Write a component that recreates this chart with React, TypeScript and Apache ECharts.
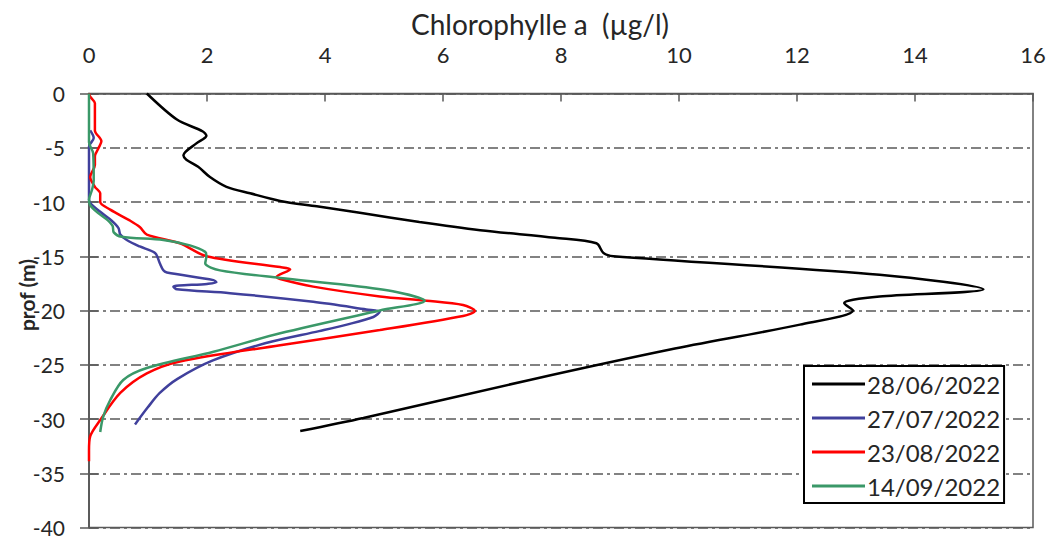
import React, { useEffect, useRef } from "react";
import * as echarts from "echarts";

// Chlorophyll a profiles (µg/l) against depth (m, negative downwards)
const seriesNames = ["28/06/2022", "27/07/2022", "23/08/2022", "14/09/2022"];
const seriesColors = ["#000000", "#40409c", "#ff0000", "#3a9868"];

const xTicks = { min: 0, max: 16, interval: 2 };
const yTicks = { min: -40, max: 0, interval: 5 };

const chl0628 = [0.98, 1.49, 1.93, 1.99, 1.82, 1.6, 1.65, 1.85, 2.05, 2.33, 2.73, 3.24, 3.86, 4.59, 5.6, 6.63, 7.9, 8.6, 8.72, 8.89, 13.4, 15.16, 13.4, 12.95, 12.8, 12.95, 12.05, 9.85, 7.47, 4.65, 3.58];
const prof0628 = [0, -2.4, -3.5, -3.9, -4.6, -5.7, -6.1, -6.75, -7.7, -8.6, -9.2, -9.9, -10.4, -11.0, -11.85, -12.6, -13.3, -13.8, -14.7, -15.0, -16.7, -18.05, -18.7, -19.0, -19.3, -20.0, -21.3, -23.6, -26.4, -29.9, -31.1];

const chl0727 = [0.02, 0.08, 0, 0, 0.19, 0.38, 0.5, 0.53, 0.64, 0.86, 1.12, 1.2, 1.26, 1.32, 2.11, 2.16, 2.0, 1.43, 1.49, 2.39, 3.8, 4.7, 4.93, 4.82, 4.37, 3.9, 3.0, 2.1, 1.5, 1.2, 1.0, 0.78];
const prof0727 = [-3.4, -4.1, -4.9, -9.8, -10.9, -11.7, -12.4, -13.0, -13.5, -14.1, -14.7, -15.65, -16.3, -16.5, -17.2, -17.4, -17.55, -17.8, -18.05, -18.4, -19.2, -19.9, -20.1, -20.6, -21.3, -21.9, -23.0, -24.6, -26.3, -27.6, -28.9, -30.5];

const chl0823 = [0, 0.02, 0.1, 0.1, 0.21, 0.16, 0.1, 0.1, 0.02, 0.1, 0.19, 0.19, 0.36, 0.69, 0.86, 0.98, 1.54, 1.99, 3.24, 3.41, 3.18, 3.24, 3.8, 4.93, 5.72, 6.34, 6.54, 6.34, 4.93, 3.24, 1.54, 0.98, 0.53, 0.19, 0.02, 0, 0];
const prof0823 = [0, -0.3, -0.9, -3.4, -4.4, -5.05, -5.8, -6.6, -7.7, -8.6, -9.2, -10.0, -10.7, -11.7, -12.3, -13.0, -13.8, -15.0, -16.0, -16.2, -16.9, -17.1, -17.8, -18.7, -19.1, -19.5, -20.05, -20.5, -21.8, -23.2, -24.7, -25.8, -27.6, -30.1, -31.6, -32.9, -33.9];

const chl0914 = [0, 0, 0.07, 0.08, 0.05, 0, 0.02, 0.15, 0.3, 0.4, 0.42, 0.55, 1.26, 1.71, 1.97, 1.99, 1.97, 2.22, 3.24, 4.37, 5.21, 5.69, 4.93, 3.24, 2.11, 0.98, 0.58, 0.36, 0.24, 0.19];
const prof0914 = [0, -4.5, -5.5, -8.0, -8.9, -9.8, -10.3, -11.0, -11.6, -12.2, -12.8, -13.2, -13.5, -14.0, -14.6, -15.0, -15.65, -16.3, -17.0, -17.65, -18.3, -19.1, -20.0, -22.1, -23.8, -25.3, -26.4, -28.25, -29.8, -31.2];

const chlValues = [chl0628, chl0727, chl0823, chl0914];
const profValues = [prof0628, prof0727, prof0823, prof0914];

const FONT = "Lato, 'Open Sans', sans-serif";
const AXIS_GREY = "#595959";
const TEXT = "#262626";

export default function App() {
  const ref = useRef<HTMLDivElement>(null);

  useEffect(() => {
    if (!ref.current) return;
    const chart = echarts.init(ref.current, undefined, { renderer: "svg" });

    const series = seriesNames.map((name, i) => ({
      name,
      type: "line",
      xAxisIndex: 0,
      yAxisIndex: 0,
      data: chlValues[i].map((v, k) => [v, profValues[i][k]]),
      showSymbol: false,
      symbol: "none",
      smooth: 0.3,
      lineStyle: { color: seriesColors[i], width: 2.5 },
      itemStyle: { color: seriesColors[i] },
    }));

    chart.setOption({
      animation: false,
      backgroundColor: "#ffffff",
      textStyle: { fontFamily: FONT },
      grid: {
        left: 89,
        top: 93.5,
        right: 22,
        bottom: 11.5,
        show: true,
        borderColor: AXIS_GREY,
        borderWidth: 1.5,
        backgroundColor: "transparent",
      },
      xAxis: {
        type: "value",
        position: "top",
        min: xTicks.min,
        max: xTicks.max,
        interval: xTicks.interval,
        axisLine: { show: true, lineStyle: { color: AXIS_GREY, width: 1.5 } },
        axisTick: { show: true, inside: true, length: 8, lineStyle: { color: AXIS_GREY, width: 1.5 } },
        axisLabel: { fontFamily: FONT, fontSize: 22, color: TEXT, margin: 28 },
        splitLine: { show: false },
      },
      yAxis: [
        {
          type: "value",
          position: "left",
          min: yTicks.min,
          max: yTicks.max,
          interval: yTicks.interval,
          axisLine: { show: true, onZero: false, lineStyle: { color: AXIS_GREY, width: 1.5 } },
          axisTick: { show: true, inside: false, length: 9, lineStyle: { color: AXIS_GREY, width: 1.5 } },
          axisLabel: { fontFamily: FONT, fontSize: 21, color: TEXT, margin: 24 },
          splitLine: {
            show: true,
            lineStyle: { color: AXIS_GREY, width: 1.5, type: [10, 4, 3, 4] },
          },
        },
        {
          type: "value",
          position: "left",
          min: yTicks.min,
          max: yTicks.max,
          interval: yTicks.interval,
          axisLine: { show: true, onZero: false, lineStyle: { color: AXIS_GREY, width: 1.5 } },
          axisTick: { show: true, inside: true, length: 9, lineStyle: { color: AXIS_GREY, width: 1.5 } },
          axisLabel: { show: false },
          splitLine: { show: false },
        },
      ],
      legend: {
        data: seriesNames,
        orient: "vertical",
        left: 804,
        top: 366,
        padding: [6, 4, 5, 8],
        itemGap: 10,
        itemWidth: 53,
        itemHeight: 3,
        icon: "rect",
        backgroundColor: "#ffffff",
        borderColor: "#000000",
        borderWidth: 2,
        borderRadius: 0,
        selectedMode: false,
        textStyle: { fontFamily: FONT, fontSize: 24, color: TEXT, lineHeight: 24, padding: [0, 0, 0, -3] },
      },
      graphic: [
        {
          type: "text",
          x: 540,
          y: 24,
          style: {
            text: "Chlorophylle a  (µg/l)",
            fontFamily: FONT,
            fontSize: 28,
            fill: TEXT,
            textAlign: "center",
            textVerticalAlign: "middle",
          },
        },
        {
          type: "text",
          x: 26,
          y: 295,
          rotation: Math.PI / 2,
          style: {
            text: "prof (m)",
            fontFamily: FONT,
            fontSize: 21,
            fontWeight: "bold",
            fill: TEXT,
            textAlign: "center",
            textVerticalAlign: "middle",
          },
        },
      ],
      series,
    });

    return () => chart.dispose();
  }, []);

  return (
    <div
      ref={ref}
      style={{ position: "fixed", left: 0, top: 0, width: 1055, height: 539, background: "#fff" }}
    />
  );
}
